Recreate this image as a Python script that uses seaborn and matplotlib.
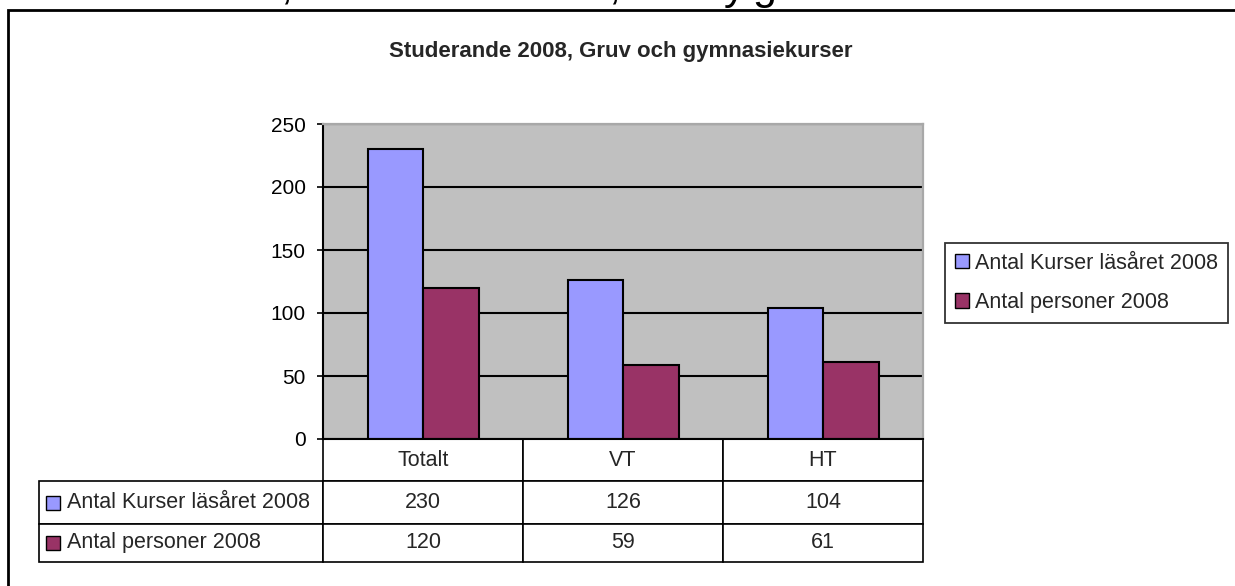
import matplotlib
matplotlib.use("Agg")
import matplotlib.pyplot as plt
import seaborn as sns
import pandas as pd
from matplotlib.patches import Patch, Rectangle

# ---- data ----
categories = ["Totalt", "VT", "HT"]
series_names = ["Antal Kurser läsåret 2008", "Antal personer 2008"]
kurser = [230, 126, 104]
personer = [120, 59, 61]
yticks = [0, 50, 100, 150, 200, 250]
title = "Studerande 2008, Gruv och gymnasiekurser"

colors = ["#9999FF", "#993366"]

sns.set_style("white")
plt.rcParams["font.family"] = ["Liberation Sans", "DejaVu Sans"]

df = pd.DataFrame({
    "kategori": categories * 2,
    "serie": [series_names[0]] * 3 + [series_names[1]] * 3,
    "varde": kurser + personer,
})

W, H = 1235, 586
fig = plt.figure(figsize=(W / 100, H / 100), dpi=100)
fig.patch.set_facecolor("white")

ax = fig.add_axes([323 / W, 1 - 439 / H, 600 / W, 315 / H])
ax.set_facecolor("#C0C0C0")

sns.barplot(data=df, x="kategori", y="varde", hue="serie", palette=colors,
            width=0.555, edgecolor="black", linewidth=1.5, ax=ax, legend=False,
            errorbar=None, saturation=1)

ax.set_xlim(-0.5, 2.5)
ax.set_ylim(0, 250)
ax.set_yticks(yticks)
ax.set_yticklabels([str(t) for t in yticks])
ax.set_xticks([])
ax.set_xlabel("")
ax.set_ylabel("")
ax.yaxis.grid(True, color="black", linewidth=1.5)
ax.set_axisbelow(True)
ax.tick_params(axis="y", direction="out", length=4.5, width=1.2, pad=8,
               labelsize=15, colors="black", left=True)
for s in ["left", "bottom"]:
    ax.spines[s].set_color("black")
    ax.spines[s].set_linewidth(1.5)
for s in ["top", "right"]:
    ax.spines[s].set_color("#A8A8A8")
    ax.spines[s].set_linewidth(1.6)

# ---- data table below the axes ----
cell_text = [[""] + categories,
             [series_names[0]] + [str(v) for v in kurser],
             [series_names[1]] + [str(v) for v in personer]]
x0 = (39 - 323) / 600
y_bot = (439 - 562) / 315
tab = ax.table(cellText=cell_text, cellLoc="center",
               bbox=[x0, y_bot, 1 - x0, -y_bot])
tab.auto_set_font_size(False)
tab.set_fontsize(15.5)
col_w = [284, 200, 200, 200]
row_h = [42, 42, 38]
for (r, c), cell in tab.get_celld().items():
    cell.set_width(col_w[c])
    cell.set_height(row_h[r])
    cell.set_linewidth(1.2)
    cell.set_edgecolor("black")
    cell.set_facecolor("white")
    if c == 0:
        cell._loc = "left"
        cell.get_text().set_ha("left")
tab[(0, 0)].visible_edges = "open"

fig.canvas.draw()
# legend keys in the row-label cells
for i in range(2):
    cell = tab[(i + 1, 0)]
    cx, cy = cell.get_x(), cell.get_y()
    cw, ch = cell.get_width(), cell.get_height()
    sq_w = 14 / 600
    sq_h = 14 / 315
    ax.add_patch(Rectangle((cx + 7 / 600, cy + ch / 2 - sq_h / 2), sq_w, sq_h,
                           transform=ax.transAxes, facecolor=colors[i],
                           edgecolor="black", linewidth=1.0, clip_on=False,
                           zorder=5))

# ---- legend ----
handles = [Patch(facecolor=colors[i], edgecolor="black", linewidth=1.0)
           for i in range(2)]
leg = fig.legend(handles, series_names, loc="upper left",
                 bbox_to_anchor=(945 / W, 1 - 243 / H),
                 bbox_transform=fig.transFigure, fontsize=15.5,
                 frameon=True, fancybox=False, shadow=False,
                 handlelength=0.65, handleheight=0.65, handletextpad=0.3,
                 labelspacing=0.85, borderpad=0.45, borderaxespad=0)
leg.get_frame().set_edgecolor("black")
leg.get_frame().set_linewidth(1.3)

# ---- title ----
fig.text(621 / W, 1 - 52 / H, title, ha="center", va="center",
         fontsize=16, fontweight="bold")

# ---- outer chart border (top and left) ----
fig.add_artist(Rectangle((8 / W, -0.2), 1.2, 1.2 - 10 / H,
                         transform=fig.transFigure, fill=False,
                         edgecolor="black", linewidth=2, clip_on=False))

# ---- cut-off heading text above the chart ----
for ch, xc in [(",", 286), (",", 614), ("y", 735), ("g", 764)]:
    fig.text(xc / W, 1.0 + 1 / H, ch, ha="center", va="baseline",
             fontsize=31, color="black")

fig.savefig("out.png", dpi=100, facecolor="white")
